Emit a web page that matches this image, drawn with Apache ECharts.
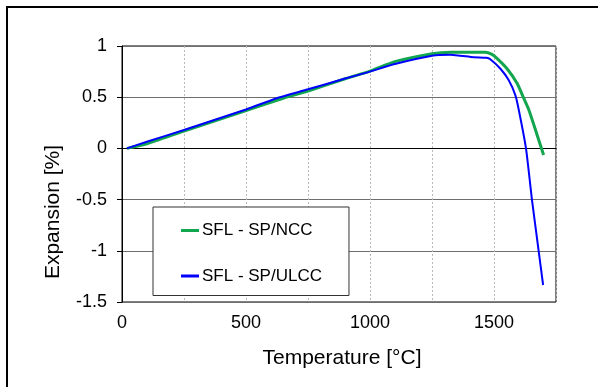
<!DOCTYPE html>
<html>
<head>
<meta charset="utf-8">
<script src="https://cdn.jsdelivr.net/npm/echarts@6/dist/echarts.min.js"></script>
<style>
html,body{margin:0;padding:0;background:#fff;}
#chart{width:598px;height:387px;}
</style>
</head>
<body>
<div id="chart"></div>
<script>
// Data
var nccTemp = [20, 100, 250, 500, 650, 750, 900, 1000, 1100, 1250, 1325, 1400, 1465, 1490, 1512, 1552, 1593, 1620, 1640, 1670, 1700];
var nccExp  = [0, 0.045, 0.17, 0.37, 0.49, 0.56, 0.68, 0.755, 0.847, 0.925, 0.94, 0.94, 0.94, 0.92, 0.88, 0.78, 0.636, 0.49, 0.38, 0.16, -0.065];
var ulccTemp = [20, 100, 250, 500, 624, 750, 900, 1000, 1100, 1250, 1324, 1418, 1470, 1485, 1525, 1559, 1586, 1600, 1629, 1653, 1680, 1698];
var ulccExp  = [0, 0.065, 0.18, 0.38, 0.49, 0.577, 0.682, 0.75, 0.824, 0.905, 0.915, 0.89, 0.885, 0.87, 0.78, 0.668, 0.52, 0.375, 0, -0.5, -1.0, -1.334];
var seriesNames = ['SFL - SP/NCC', 'SFL - SP/ULCC'];
var xTitle = 'Temperature [°C]';
var yTitle = 'Expansion [%]';

function pairs(xs, ys){ return xs.map(function(x,i){ return [x, ys[i]]; }); }

var font = 'Liberation Sans, Arial, sans-serif';
var chart = echarts.init(document.getElementById('chart'), null, {renderer:'canvas'});
chart.setOption({
  animation: false,
  backgroundColor: '#fff',
  textStyle: {fontFamily: font},
  grid: {left: 122, right: 42, top: 46, bottom: 85, show: true, borderColor: '#000', borderWidth: 1, backgroundColor: 'transparent'},
  xAxis: {
    type: 'value', min: 0, max: 1750, interval: 250,
    axisLine: {show: true, lineStyle: {color: '#000', width: 1}},
    axisTick: {show: false},
    axisLabel: {
      color: '#000', fontSize: 18, fontFamily: font, margin: 12,
      formatter: function(v){ return (v % 500 === 0) ? String(v) : ''; }
    },
    splitLine: {show: true, lineStyle: {color: '#b8b8b8', type: [2, 2], width: 1}}
  },
  yAxis: {
    type: 'value', min: -1.5, max: 1, interval: 0.5,
    axisLine: {show: true, lineStyle: {color: '#000', width: 1}},
    axisTick: {show: true, inside: false, length: 5, lineStyle: {color: '#000'}},
    axisLabel: {color: '#000', fontSize: 18, fontFamily: font, margin: 15},
    splitLine: {show: true, lineStyle: {color: '#6e6e6e', width: 1}}
  },
  legend: {
    show: true, orient: 'vertical', left: 153, top: 207,
    padding: [15, 27, 11, 28],
    itemGap: 28.5, itemWidth: 18, itemHeight: 3,
    icon: 'rect',
    backgroundColor: '#fff', borderColor: '#333', borderWidth: 1,
    textStyle: {color: '#000', fontSize: 17, fontFamily: font, padding: [0,0,0,-2]},
    data: seriesNames
  },
  graphic: [
    {type: 'rect', shape: {x: 7, y: 7, width: 700, height: 500}, style: {fill: 'none', stroke: '#000', lineWidth: 2}, silent: true, z: 100},
    {type: 'text', x: 342, y: 358, style: {text: xTitle, fill: '#000', font: '21px ' + font, textAlign: 'center', textVerticalAlign: 'middle'}},
    {type: 'text', x: 53, y: 212, rotation: Math.PI/2, style: {text: yTitle, fill: '#000', font: '21px ' + font, textAlign: 'center', textVerticalAlign: 'middle'}}
  ],
  series: [
    {
      name: seriesNames[0], type: 'line', data: pairs(nccTemp, nccExp),
      showSymbol: false, symbol: 'none', smooth: 0.2,
      lineStyle: {color: '#12a64e', width: 3}, itemStyle: {color: '#12a64e'}, z: 2
    },
    {
      name: seriesNames[1], type: 'line', data: pairs(ulccTemp, ulccExp),
      showSymbol: false, symbol: 'none', smooth: 0.2,
      lineStyle: {color: '#0000ff', width: 2}, itemStyle: {color: '#0000ff'}, z: 3
    }
  ]
});
</script>
</body>
</html>
